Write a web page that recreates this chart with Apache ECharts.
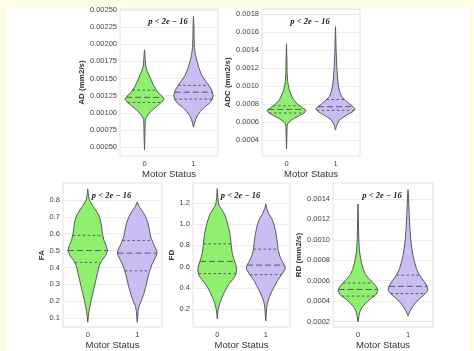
<!DOCTYPE html>
<html>
<head>
<meta charset="utf-8">
<script src="https://cdn.jsdelivr.net/npm/echarts@6/dist/echarts.min.js"></script>
<style>
	html, body { margin: 0; padding: 0; }
	#chart { width: 474px; height: 351px; }
</style>
</head>
<body>
<div id="chart"></div>
<script>
const categories = ['0', '1'];
const pLabel = 'p < 2e \u2212 16';

// tick labels
const adTicks = [0.0005, 0.00075, 0.001, 0.00125, 0.0015, 0.00175, 0.002, 0.00225, 0.0025];
const adcTicks = [0.0004, 0.0006, 0.0008, 0.001, 0.0012, 0.0014, 0.0016, 0.0018];
const faTicks = [0.1, 0.2, 0.3, 0.4, 0.5, 0.6, 0.7, 0.8];
const fdTicks = [0.2, 0.4, 0.6, 0.8, 1.0, 1.2];
const rdTicks = [0.0002, 0.0004, 0.0006, 0.0008, 0.001, 0.0012, 0.0014];

// violin outlines: [value, relative half width], top to bottom
const adViolin0 = [[0.00192, 0], [0.0018, 0.03], [0.00168, 0.06], [0.0016, 0.15], [0.00152, 0.28], [0.00145, 0.38], [0.00138, 0.5], [0.0013, 0.68], [0.00124, 0.9], [0.0012, 1.0], [0.00116, 0.9], [0.0011, 0.65], [0.00104, 0.4], [0.00098, 0.2], [0.00094, 0.1], [0.0009, 0.04], [0.0008, 0.03], [0.00065, 0.02], [0.00046, 0]];
const adViolin1 = [[0.00241, 0], [0.0023, 0.02], [0.0021, 0.03], [0.00195, 0.05], [0.00185, 0.1], [0.00175, 0.18], [0.00165, 0.28], [0.00155, 0.42], [0.00147, 0.6], [0.0014, 0.78], [0.00133, 0.93], [0.00126, 1.0], [0.0012, 0.97], [0.00114, 0.82], [0.00108, 0.55], [0.00102, 0.35], [0.00096, 0.2], [0.0009, 0.1], [0.00085, 0.05], [0.00079, 0]];
const adcViolin0 = [[0.00147, 0], [0.0013, 0.02], [0.00115, 0.03], [0.00105, 0.06], [0.001, 0.1], [0.00095, 0.15], [0.0009, 0.24], [0.00085, 0.36], [0.0008, 0.55], [0.00076, 0.8], [0.00073, 1.0], [0.0007, 0.9], [0.00067, 0.65], [0.00064, 0.38], [0.00061, 0.18], [0.00058, 0.06], [0.00055, 0.03], [0.00045, 0.02], [0.0003, 0]];
const adcViolin1 = [[0.00166, 0], [0.0015, 0.02], [0.0014, 0.03], [0.0013, 0.05], [0.0012, 0.07], [0.0011, 0.1], [0.001, 0.15], [0.00093, 0.22], [0.00088, 0.32], [0.00084, 0.5], [0.0008, 0.72], [0.00076, 0.95], [0.00074, 1.0], [0.00071, 0.85], [0.00068, 0.6], [0.00065, 0.38], [0.00062, 0.2], [0.00058, 0.09], [0.00055, 0.04], [0.00051, 0]];
const faViolin0 = [[0.865, 0], [0.83, 0.03], [0.8, 0.08], [0.77, 0.22], [0.74, 0.4], [0.71, 0.55], [0.68, 0.64], [0.64, 0.7], [0.6, 0.74], [0.56, 0.82], [0.53, 0.93], [0.5, 1.0], [0.47, 0.9], [0.44, 0.7], [0.41, 0.58], [0.37, 0.5], [0.33, 0.42], [0.29, 0.34], [0.25, 0.26], [0.21, 0.18], [0.17, 0.11], [0.14, 0.06], [0.11, 0.03], [0.076, 0]];
const faViolin1 = [[0.788, 0], [0.76, 0.1], [0.73, 0.28], [0.7, 0.42], [0.66, 0.55], [0.62, 0.62], [0.58, 0.68], [0.54, 0.82], [0.5, 0.98], [0.48, 1.0], [0.45, 0.88], [0.42, 0.75], [0.39, 0.66], [0.36, 0.58], [0.32, 0.5], [0.28, 0.42], [0.24, 0.32], [0.2, 0.2], [0.17, 0.09], [0.14, 0.04], [0.1, 0.02], [0.076, 0]];
const fdViolin0 = [[1.335, 0], [1.25, 0.03], [1.18, 0.08], [1.14, 0.22], [1.1, 0.36], [1.04, 0.48], [0.98, 0.57], [0.92, 0.64], [0.86, 0.69], [0.8, 0.72], [0.74, 0.76], [0.68, 0.84], [0.62, 0.95], [0.57, 1.0], [0.52, 0.95], [0.48, 0.8], [0.44, 0.62], [0.4, 0.48], [0.35, 0.34], [0.3, 0.22], [0.25, 0.12], [0.2, 0.05], [0.15, 0.02], [0.11, 0]];
const fdViolin1 = [[1.19, 0], [1.15, 0.05], [1.1, 0.15], [1.05, 0.32], [1.0, 0.42], [0.94, 0.5], [0.88, 0.56], [0.82, 0.6], [0.76, 0.64], [0.7, 0.72], [0.65, 0.85], [0.61, 0.98], [0.58, 1.0], [0.54, 0.88], [0.5, 0.72], [0.46, 0.58], [0.42, 0.46], [0.37, 0.32], [0.32, 0.2], [0.27, 0.1], [0.22, 0.05], [0.16, 0.03], [0.09, 0]];
const rdViolin0 = [[0.00135, 0], [0.0012, 0.02], [0.001, 0.04], [0.0009, 0.07], [0.00083, 0.12], [0.00077, 0.18], [0.00071, 0.27], [0.00066, 0.38], [0.00062, 0.55], [0.00058, 0.75], [0.00054, 0.92], [0.0005, 1.0], [0.00046, 0.88], [0.00042, 0.6], [0.00038, 0.38], [0.00034, 0.2], [0.0003, 0.1], [0.00026, 0.05], [0.0002, 0]];
const rdViolin1 = [[0.00149, 0], [0.0014, 0.03], [0.0013, 0.05], [0.0012, 0.07], [0.0011, 0.1], [0.001, 0.14], [0.0009, 0.2], [0.0008, 0.3], [0.00072, 0.42], [0.00066, 0.56], [0.0006, 0.78], [0.00055, 0.95], [0.00051, 1.0], [0.00047, 0.85], [0.00043, 0.6], [0.00039, 0.4], [0.00035, 0.24], [0.00031, 0.12], [0.00028, 0.05], [0.00026, 0]];

// quartiles [q1, median, q3]
const adQuart0 = [0.00115, 0.001225, 0.00133];
const adQuart1 = [0.0012, 0.0013, 0.0014];
const adcQuart0 = [0.0007, 0.00074, 0.00078];
const adcQuart1 = [0.00073, 0.00077, 0.00085];
const faQuart0 = [0.43, 0.5, 0.59];
const faQuart1 = [0.38, 0.485, 0.56];
const fdQuart0 = [0.535, 0.65, 0.815];
const fdQuart1 = [0.525, 0.615, 0.765];
const rdQuart0 = [0.00045, 0.000515, 0.000578];
const rdQuart1 = [0.000475, 0.000545, 0.000655];

const fillColors = ['#8ef06e', '#cbbcf4'];
const font = 'Liberation Sans';

let panels = [
	{ name: 'AD (mm2/s)', ticks: adTicks, dec: 5, min: 0.000369, max: 0.0025146, violins: [adViolin0, adViolin1], quarts: [adQuart0, adQuart1],
		grid: { left: 120, top: 9, width: 98, height: 147 }, nameGap: 33 },
	{ name: 'ADC (mm2/s)', ticks: adcTicks, dec: 4, min: 0.000222, max: 0.001856, violins: [adcViolin0, adcViolin1], quarts: [adcQuart0, adcQuart1],
		grid: { left: 262, top: 9, width: 98, height: 147 }, nameGap: 29 },
	{ name: 'FA', ticks: faTicks, dec: 1, min: 0.047, max: 0.9, violins: [faViolin0, faViolin1], quarts: [faQuart0, faQuart1],
		grid: { left: 63, top: 183, width: 99, height: 145 }, nameGap: 14 },
	{ name: 'FD', ticks: fdTicks, dec: 1, min: 0.032, max: 1.387, violins: [fdViolin0, fdViolin1], quarts: [fdQuart0, fdQuart1],
		grid: { left: 193, top: 183, width: 97, height: 145 }, nameGap: 15 },
	{ name: 'RD (mm2/s)', ticks: rdTicks, dec: 4, min: 0.000147, max: 0.001555, violins: [rdViolin0, rdViolin1], quarts: [rdQuart0, rdQuart1],
		grid: { left: 333, top: 183, width: 100, height: 145 }, nameGap: 27 },
];

function widthAt(prof, v) {
	for (let i = 0; i < prof.length - 1; i++) {
		let a = prof[i], b = prof[i + 1];
		if (v <= a[0] && v >= b[0]) {
			let t = (a[0] - v) / (a[0] - b[0]);
			return a[1] + (b[1] - a[1]) * t;
		}
	}
	return 0;
}

function violinItem(panel) {
	return function(params, api) {
		let idx = params.dataIndex;
		let prof = panel.violins[idx];
		let half = api.size([1, 0])[0] * 0.4;
		let right = [];
		let left = [];
		prof.forEach((p) => {
			let c = api.coord([idx, p[0]]);
			right.push([c[0] + p[1] * half, c[1]]);
			left.unshift([c[0] - p[1] * half, c[1]]);
		});
		let children = [{
			type: 'polygon',
			shape: { points: right.concat(left) },
			style: { fill: fillColors[idx], stroke: '#5a5a5a', lineWidth: 1 },
		}];
		panel.quarts[idx].forEach((q, k) => {
			let c = api.coord([idx, q]);
			let w = widthAt(prof, q) * half;
			children.push({
				type: 'line',
				shape: { x1: c[0] - w, y1: c[1], x2: c[0] + w, y2: c[1] },
				style: { stroke: '#5a5a5a', lineWidth: 1, lineDash: k == 1 ? [6, 3] : [2.5, 2.5] },
			});
		});
		return { type: 'group', children: children };
	};
}

let grids = [], xAxes = [], yAxes = [], series = [];
let graphics = [
	{ type: 'rect', shape: { x: 7, y: 7, width: 462, height: 344 }, style: { fill: '#ffffff' }, z: -10 },
];

panels.forEach((p, i) => {
	grids.push(Object.assign({ show: true, borderColor: '#e2e2e2', borderWidth: 1, backgroundColor: '#fff' }, p.grid));
	xAxes.push({
		gridIndex: i,
		type: 'category',
		data: categories,
		axisLine: { show: false },
		axisTick: { show: false },
		axisLabel: { fontSize: 7.5, color: '#444', margin: 4, fontFamily: font },
		name: 'Motor Status',
		nameLocation: 'middle',
		nameGap: 11,
		nameTextStyle: { fontSize: 9.5, color: '#333', fontFamily: font },
	});
	yAxes.push({
		gridIndex: i,
		type: 'value',
		min: p.min,
		max: p.max,
		axisLine: { show: false },
		axisTick: { show: false, customValues: p.ticks },
		axisLabel: { customValues: p.ticks, formatter: (v) => v.toFixed(p.dec), fontSize: 7.5, color: '#444', margin: 3, fontFamily: font },
		splitLine: { show: true, lineStyle: { color: '#ececec', width: 1 } },
		name: p.name,
		nameLocation: 'middle',
		nameGap: p.nameGap,
		nameTextStyle: { fontSize: 8, fontWeight: 'bold', color: '#333', fontFamily: font },
	});
	series.push({
		type: 'custom',
		xAxisIndex: i,
		yAxisIndex: i,
		renderItem: violinItem(p),
		data: [[0, p.quarts[0][1]], [1, p.quarts[1][1]]],
		silent: true,
	});
	// p-value note at the top of each panel
	graphics.push({
		type: 'text',
		x: p.grid.left + p.grid.width / 2 - 1,
		y: p.grid.top + 12.5,
		style: { text: pLabel, fontSize: 8.5, fontStyle: 'italic', fontWeight: 'bold', fontFamily: 'Liberation Serif', fill: '#222', align: 'center', verticalAlign: 'middle' },
		z: 10,
	});
});

var myChart = echarts.init(document.getElementById('chart'));
var option = {
	backgroundColor: '#fdfce4',
	animation: false,
	grid: grids,
	xAxis: xAxes,
	yAxis: yAxes,
	series: series,
	graphic: graphics,
};
myChart.setOption(option);
</script>
</body>
</html>
